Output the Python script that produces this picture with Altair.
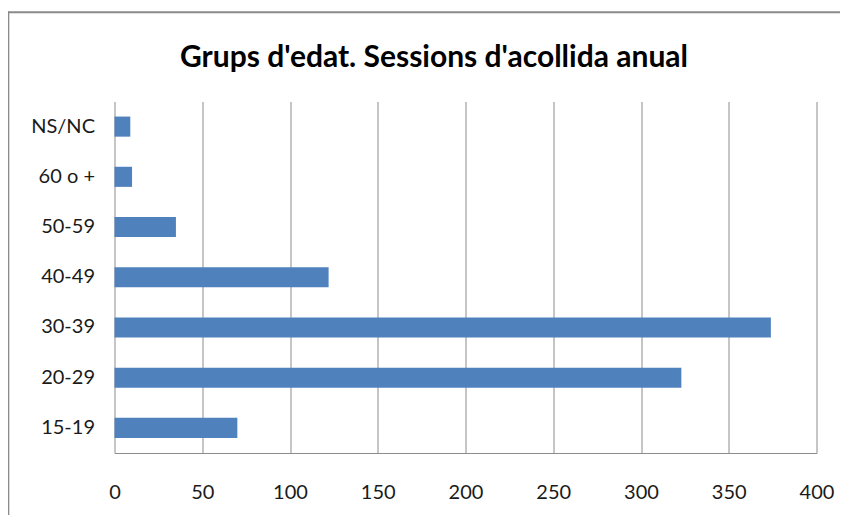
import altair as alt
import pandas as pd

categories = ["NS/NC", "60 o +", "50-59", "40-49", "30-39", "20-29", "15-19"]
values = [9, 10, 35, 122, 374, 323, 70]
x_ticks = [0, 50, 100, 150, 200, 250, 300, 350, 400]
title_text = "Grups d'edat. Sessions d'acollida anual"

FONT = "Lato"
GRID = "#8c8c8c"

df = pd.DataFrame({"grup": categories, "sessions": values})

bars = alt.Chart(df).mark_bar(color="#4F81BD").encode(
    x=alt.X("sessions:Q",
            scale=alt.Scale(domain=[0, 400], nice=False, zero=True),
            axis=alt.Axis(values=x_ticks, title=None, grid=True, ticks=False,
                          labelFlush=False, labelPadding=29, domain=True,
                          domainColor=GRID, gridColor=GRID, labelFontSize=20,
                          labelFont=FONT, labelColor="#1a1a1a")),
    y=alt.Y("grup:N", sort=categories,
            scale=alt.Scale(paddingInner=0.6, paddingOuter=0.3),
            axis=alt.Axis(title=None, ticks=False, domain=False, labelPadding=20,
                          labelFontSize=20, labelFont=FONT, labelColor="#1a1a1a")),
)

one = pd.DataFrame({"t": [title_text]})
title = alt.Chart(one).mark_text(font=FONT, fontSize=30, fontWeight="bold",
                                 color="#000000", align="center",
                                 baseline="alphabetic").encode(
    text="t:N", x=alt.value(319.5), y=alt.value(-34.5)
)
top_border = alt.Chart(one).mark_rule(color="#8a8a8a", strokeWidth=2).encode(
    x=alt.value(-107), x2=alt.value(740), y=alt.value(-89.3)
)
left_border = alt.Chart(one).mark_rule(color="#8a8a8a", strokeWidth=2).encode(
    x=alt.value(-106.2), y=alt.value(-90), y2=alt.value(430)
)

chart = alt.layer(bars, title, top_border, left_border).properties(
    width=702,
    height=351.5,
    autosize=alt.AutoSizeParams(type="none"),
    padding={"left": 106.5, "top": 93.5, "right": 23.5, "bottom": 62},
).configure_view(stroke=None)

chart.save("out.html", embed_options={"renderer": "svg", "actions": False})
